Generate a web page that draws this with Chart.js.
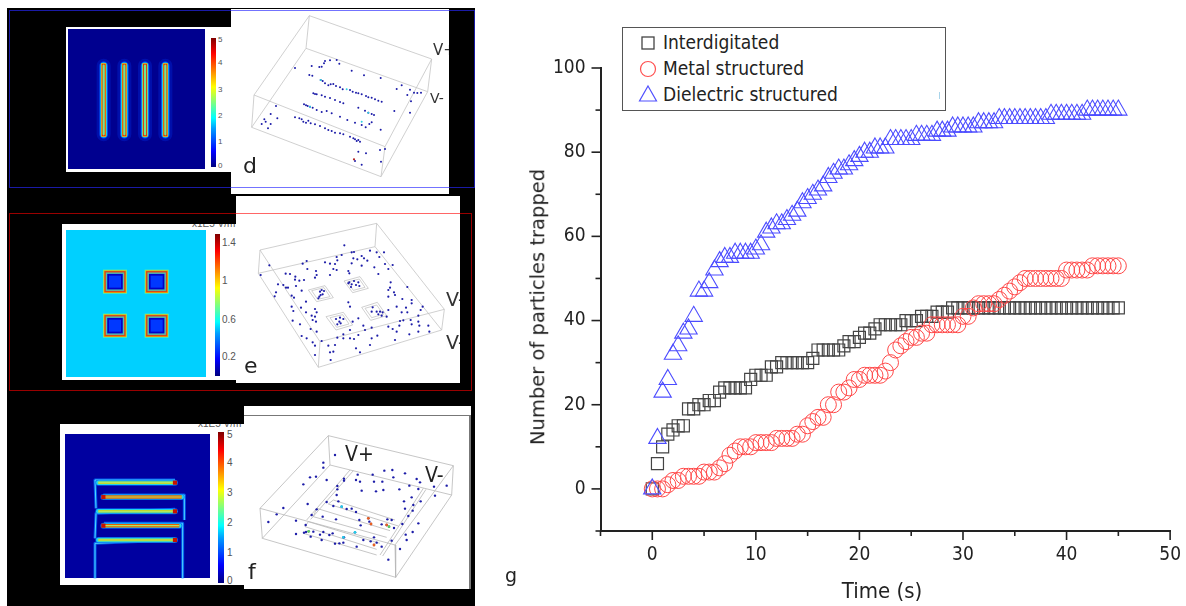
<!DOCTYPE html>
<html>
<head>
<meta charset="utf-8">
<title>Particles trapped</title>
<script src="https://cdn.jsdelivr.net/npm/chart.js@4/dist/chart.umd.min.js"></script>
<style>
  html, body { margin: 0; padding: 0; background: #fff; overflow: hidden; }
  body { position: relative; width: 1186px; height: 606px; font-family: "DejaVu Sans", sans-serif; }
  .abs { position: absolute; }
  .box { position: absolute; overflow: hidden; }
  canvas { position: absolute; }
  #scene { left: 0; top: 0; filter: blur(0.45px); }
  #main { left: 520px; top: 0; filter: blur(0.3px); }
  .lbl { position: absolute; color: #333; white-space: nowrap; line-height: 1; }
  .cond { font-family: "DejaVu Sans Condensed", "DejaVu Sans", sans-serif; }
  .cb { position: absolute; background: linear-gradient(to top, #00007f, #0000ff 12%, #00a0ff 30%, #00ffff 38%, #7fff7f 50%, #ffff00 62%, #ff7f00 75%, #ff0000 88%, #7f0000); }
  .num { position: absolute; font: 8px "Liberation Sans", sans-serif; color: #555; line-height: 1; white-space: nowrap; }
  .num.big { font-size: 10px; }
  #legend { position: absolute; left: 622px; top: 27px; width: 322px; height: 82px; border: 1.5px solid #555; background: #fff; }
  #legend div { position: absolute; left: 40px; font: 19px "DejaVu Sans Condensed", "DejaVu Sans", sans-serif; color: #222; line-height: 1; white-space: nowrap; }
  #legend svg { position: absolute; left: 14px; }
  #ytitle { position: absolute; left: 538px; top: 307px; transform: translate(-50%, -50%) rotate(-90deg); font: 19.5px "DejaVu Sans", sans-serif; color: #222; white-space: nowrap; line-height: 1; }
  #xtitle { position: absolute; left: 882px; top: 591px; transform: translate(-50%, -50%); font: 22px "DejaVu Sans Condensed", "DejaVu Sans", sans-serif; color: #222; white-space: nowrap; line-height: 1; }
</style>
</head>
<body>
<div class="abs" style="left:7px;top:8px;width:468px;height:598px;background:#000"></div>

<!-- panel d -->
<div class="box" style="left:66px;top:27px;width:165px;height:145px;background:#fff"></div>
<div class="box" style="left:231px;top:9px;width:218px;height:185px;background:#fff"></div>
<div class="abs" style="left:68px;top:29px;width:137px;height:140px;background:#00008f"></div>
<div class="cb" style="left:211px;top:38px;width:5px;height:129px"></div>
<div class="num" style="left:218px;top:36px">5</div>
<div class="num" style="left:218px;top:59px">4</div>
<div class="num" style="left:218px;top:86px">3</div>
<div class="num" style="left:218px;top:112px">2</div>
<div class="num" style="left:218px;top:138px">1</div>
<div class="num" style="left:218px;top:162px">0</div>

<!-- panel e -->
<div class="box" style="left:236px;top:196px;width:224px;height:187px;background:#fff"></div>
<div class="box" style="left:62px;top:224px;width:174px;height:156px;background:#fff"></div>
<div class="abs" style="left:66px;top:230px;width:140px;height:147px;background:#00d0ff"></div>
<div class="cb" style="left:215px;top:234px;width:5px;height:142px"></div>
<div class="num big" style="left:222px;top:238px">1.4</div>
<div class="num big" style="left:222px;top:276px">1</div>
<div class="num big" style="left:222px;top:315px">0.6</div>
<div class="num big" style="left:222px;top:352px">0.2</div>
<div class="box" style="left:190px;top:224px;width:46px;height:6px"><div class="num big" style="left:2px;top:-5px">x1E5 V/m</div></div>

<!-- panel f -->
<div class="box" style="left:244px;top:406px;width:227px;height:183px;background:#fff"></div>
<div class="abs" style="left:244px;top:415px;width:225px;height:1px;background:#777"></div>
<div class="abs" style="left:469px;top:415px;width:2px;height:174px;background:#777"></div>
<div class="box" style="left:60px;top:424px;width:184px;height:161px;background:#fff"></div>
<div class="abs" style="left:65px;top:434px;width:145px;height:144px;background:#0000a0"></div>
<div class="cb" style="left:218px;top:432px;width:6px;height:151px"></div>
<div class="num big" style="left:227px;top:430px">5</div>
<div class="num big" style="left:227px;top:458px">4</div>
<div class="num big" style="left:227px;top:488px">3</div>
<div class="num big" style="left:227px;top:518px">2</div>
<div class="num big" style="left:227px;top:548px">1</div>
<div class="num big" style="left:227px;top:576px">0</div>
<div class="box" style="left:196px;top:424px;width:48px;height:6px"><div class="num big" style="left:2px;top:-5px">x1E5 V/m</div></div>

<canvas id="scene" width="480" height="606"></canvas>

<!-- panel outlines -->
<div class="abs" style="left:9px;top:10px;width:464px;height:176px;border:1px solid rgba(40,40,255,.65)"></div>
<div class="abs" style="left:9px;top:213px;width:461px;height:176px;border:1px solid rgba(255,0,0,.6)"></div>

<!-- panel captions -->
<div class="box" style="left:420px;top:30px;width:29px;height:90px">
  <div class="lbl" style="left:13px;top:13px;font-size:15px">V+</div>
  <div class="lbl" style="left:10px;top:61px;font-size:14px">V-</div>
</div>
<div class="lbl" style="left:243px;top:155px;font-size:22px;color:#222">d</div>
<div class="box" style="left:440px;top:290px;width:20px;height:70px">
  <div class="lbl" style="left:6px;top:0px;font-size:19px">V-</div>
  <div class="lbl" style="left:6px;top:43px;font-size:19px">V-</div>
</div>
<div class="lbl" style="left:244px;top:355px;font-size:22px;color:#222">e</div>
<div class="lbl cond" style="left:345px;top:444px;font-size:21px;color:#222">V+</div>
<div class="lbl cond" style="left:425px;top:465px;font-size:21px;color:#222">V-</div>
<div class="lbl" style="left:248px;top:561px;font-size:22px;color:#222">f</div>
<div class="lbl" style="left:505px;top:566px;font-size:19px;color:#222">g</div>

<canvas id="main" width="666" height="606"></canvas>

<div id="ytitle">Number of particles trapped</div>
<div id="xtitle">Time (s)</div>

<div id="legend">
  <svg style="top:7px" width="22" height="16"><rect x="5" y="2" width="12" height="12" fill="none" stroke="#444" stroke-width="1.3"/></svg>
  <div style="top:5px">Interdigitated</div>
  <svg style="top:31px" width="22" height="20"><circle cx="11" cy="10" r="7.5" fill="none" stroke="#ff5050" stroke-width="1.2"/></svg>
  <div style="top:31px">Metal structured</div>
  <svg style="top:56px" width="22" height="20"><path d="M11 2 L19.5 17 L2.5 17 Z" fill="none" stroke="#5050ff" stroke-width="1.2"/></svg>
  <div style="top:57px">Dielectric structured</div>
  <span class="abs" style="left:316px;top:64px;width:1px;height:7px;background:#a8d4ea"></span>
</div>

<script>
// main chart data
const timeS = [0,0.5,1,1.5,2,2.5,3,3.5,4,4.5,5,5.5,6,6.5,7,7.5,8,8.5,9,9.5,10,10.5,11,11.5,12,12.5,13,13.5,14,14.5,15,15.5,16,16.5,17,17.5,18,18.5,19,19.5,20,20.5,21,21.5,22,22.5,23,23.5,24,24.5,25,25.5,26,26.5,27,27.5,28,28.5,29,29.5,30,30.5,31,31.5,32,32.5,33,33.5,34,34.5,35,35.5,36,36.5,37,37.5,38,38.5,39,39.5,40,40.5,41,41.5,42,42.5,43,43.5,44,44.5,45]
const interdigitated = [0,6,10,13,14,15,15,19,19,20,20,21,21,23,24,24,24,24,24,26,27,27,27,29,29,30,30,30,30,30,30,31,33,33,33,33,33,34,35,35,36,37,37,38,39,39,39,39,39,40,40,40,41,41,41,42,42,42,43,43,43,43,43,43,43,43,43,43,43,43,43,43,43,43,43,43,43,43,43,43,43,43,43,43,43,43,43,43,43,43,43]
const metalStructured = [0,0,0,1,2,2,3,3,3,3,4,4,4,5,6,8,9,10,10,10,11,11,11,11,12,12,12,12,13,13,15,16,17,17,20,20,23,23,24,26,26,27,27,27,27,28,30,33,34,35,36,36,37,37,39,39,39,39,39,39,41,41,43,44,44,44,44,45,46,47,48,49,50,50,50,50,50,50,50,50,52,52,52,52,52,53,53,53,53,53,53]
const dielectricStructured = [0,12,23,26,32,34,37,38,41,47,47,49,52,54,55,55,56,56,56,56,57,58,61,62,63,63,64,65,66,68,69,70,71,72,74,75,76,76,77,78,79,80,80,81,81,81,83,83,83,83,83,84,84,84,84,85,85,85,86,86,86,86,86,87,87,87,87,88,88,88,88,88,88,88,88,88,88,89,89,89,89,89,89,89,90,90,90,90,90,90,90]

// particle positions in the 3D views, in 3x crop pixels of each panel
const particlesD = [[885,204],[935,198],[975,183],[990,181],[1010,180],[1018,191],[972,190],[965,200],[958,201],[928,225],[937,227],[1055,212],[1092,226],[1142,234],[1205,256],[1190,267],[1230,269],[1242,278],[1252,279],[1263,278],[1222,285],[1233,304],[1183,333],[1230,338],[828,318],[812,342],[832,355],[793,358],[797,365],[785,372],[812,372],[804,385],[1142,389],[1140,450],[1155,447],[1075,455],[1098,460],[1065,483],[1085,494],[1143,485],
  [962,240],[968,243],[975,250],[985,256],[992,253],[1000,252],[1008,258],[1020,262],[1028,268],[1050,270],[1058,275],[1068,278],[1075,280],[1085,283],[1098,288],[1105,292],[1115,293],[1125,298],[1135,302],[1145,305],
  [940,280],[945,282],[950,283],[965,286],[975,290],[990,294],[1005,300],[1020,306],[1030,310],[1075,323],[1095,332],[1105,338],[1115,342],[1122,345],
  [912,313],[918,316],[923,318],[930,320],[938,323],[950,330],[965,336],[980,333],[995,340],[1020,350],[1042,360],[1065,368],[1085,375],[1097,382],[1108,372],[1115,367],
  [885,352],[898,355],[905,358],[910,365],[918,368],[925,362],[932,370],[945,373],[960,378],[975,385],[985,390],[995,393],[1005,398],[1020,400],[1030,403],[1050,410],[1060,415],[1065,418],[1070,423],[1080,425],[1075,420]]
const particlesE = [[1033,151],[1055,172],[1062,171],[1110,167],[1130,172],[1152,172],[1138,186],[1010,186],[1025,180],[1085,183],[1072,193],[1092,190],[1102,197],[1060,190],[1055,205],[920,198],[908,206],[808,211],[975,202],[990,206],[1012,196],[1005,207],[1000,222],[1155,207],[1178,210],[1165,222],[1123,217],[922,222],[948,228],[950,240],[945,248],[990,240],[1010,225],[1045,228],[1048,235],[1085,212],[1135,237],[857,236],[870,237],[886,245],[885,254],[898,257],[912,255],[782,240],[834,268],[850,270],[858,278],[864,278],[888,273],[905,287],[828,292],[824,304],[875,302],[882,308],[918,320],[1172,262],[1170,278],[1222,276],[1165,285],[1182,292],[1185,300],[1165,305],[1207,312],[1235,315],[1235,325],
  [1048,262],[1055,268],[1062,258],[1068,270],[1075,262],[1078,273],[1053,276],[1045,265],[960,290],[965,285],[972,288],[968,298],[958,305],[962,300],[955,310],[1045,322],[1050,335],[1190,335],[1218,338],[1268,335],[1262,345],[1205,352],[1222,352],[1255,362],
  [1118,337],[1130,350],[1115,350],[1140,350],[1148,352],[1145,362],[1135,358],[1165,345],[1160,365],[1020,368],[1030,372],[1008,372],[1022,385],[1012,388],[1018,380],
  [875,335],[880,348],[903,338],[918,352],[945,342],[950,352],[935,362],[945,365],[938,375],[948,380],[878,377],[900,388],[932,402],[950,410],[920,430],[905,423],[938,442],[965,438],[945,452],[945,480],[985,452],[1005,450],[1012,428],[1030,418],[1050,405],[1050,430],[1062,432],[1075,420],[1030,430],[1090,392],[1095,405],[1115,398],[1075,370],[1058,380],[1132,422],[1115,430],[1110,450],[1068,460],[1080,472],[1000,470],[990,472],[992,495],[1165,395],[1178,402],[1190,410],[1185,435],[1200,378],[1210,376],[1232,375],[1235,388],[1198,392],[1255,380],[1258,392],[1285,392],[1288,410],[1255,410],[1228,418]]
const particlesF = [[1005,165],[970,188],[970,203],[930,232],[948,230],[980,240],[910,253],[1032,236],[1032,242],[1068,240],[1073,224],[1080,245],[1118,224],[1122,245],[1147,245],[1153,212],[1177,210],[1180,232],[1215,220],[1250,237],[1260,247],[1228,257],[1255,267],[1302,260],[1340,257],[1305,287],[1012,258],[1012,268],[1010,285],[1085,272],[1128,274],[1150,270],[1198,268],[1235,292],[1212,304],[1240,315],[1262,304],[1215,326],[1238,332],[1225,348],[980,306],[1015,304],[1000,318],[1025,320],[1040,327],[1055,326],[1068,336],[950,328],[935,345],[968,350],[1008,358],[850,324],[830,343],[805,366],[888,362],[923,312],[917,375],[1078,360],[1082,376],[1105,355],[1108,365],[1113,372],[1145,373],[1162,358],[1175,360],[1160,375],[1167,380],[1182,384],[1207,372],[1255,370],[1238,396],[1217,404],[1220,420],[1200,447],[1165,479],[888,402],[912,398],[918,396],[926,394],[940,395],[932,410],[960,404],[970,396],[988,405],[998,400],[965,420],[1005,431],[1018,430],[1030,428],[1030,412],[1032,412],[1065,397],[1070,440],[1090,420],[1112,424],[1122,412],[1122,435],[1130,428],[1145,440],[1175,422]]

// wireframes of the 3D views and electrode outlines, 3x crop pixels
const boxD = [[[928,47],[1295,177],[1155,440],[762,285],[928,47],[918,145],[755,382],[1143,530],[1283,275],[918,145]],[[762,285],[755,382]],[[1295,177],[1283,275]],[[1155,440],[1143,530]]]
const boxE = [[[780,165],[1130,85],[1333,343],[960,440],[780,165],[775,235],[955,517],[1325,405],[1333,343]],[[1130,85],[1125,155],[1325,405]],[[775,235],[1125,155]],[[960,440],[955,517]],
  [[925,285],[975,272],[1000,308],[950,320],[925,285]],[[935,287],[972,278],[990,305],[953,313],[935,287]],[[1032,258],[1080,245],[1105,280],[1058,293],[1032,258]],[[1042,261],[1078,252],[1095,277],[1060,286],[1042,261]],
  [[1085,337],[1132,322],[1160,362],[1112,376],[1085,337]],[[1095,340],[1130,330],[1150,358],[1115,368],[1095,340]],[[978,365],[1030,352],[1058,390],[1008,405],[978,365]],[[990,368],[1028,359],[1047,387],[1010,397],[990,368]]]
const boxF = [[[985,107],[1360,197],[1185,435],[780,325],[985,107],[990,195],[787,415],[1187,532],[1355,285],[1360,197]],[[780,325],[787,415]],[[1185,435],[1187,532]],[[990,195],[1355,285]],
  [[1050,210],[920,360]],[[1060,212],[932,358]],[[1270,265],[1140,465]],[[1278,268],[1148,468]],[[1000,300],[1185,360]],[[985,312],[1195,378]],[[950,325],[1170,392]],[[940,350],[1160,412]],[[925,365],[1140,430]],[[915,380],[1130,448]],[[910,400],[1130,465]],[[1000,300],[985,312]],[[950,325],[940,350]],[[925,365],[915,380]]]

// field plot electrodes, 3x crop pixels
const fingersD = [[[311,197],[311,403]],[[373,197],[373,403]],[[435,197],[435,403]],[[496,197],[496,403]]]
const padsE = [[345,260],[470,260],[345,392],[470,392]]
const fingersF = [[[295,248],[525,248]],[[310,291],[545,291]],[[295,334],[525,334]],[[310,377],[538,377]],[[295,420],[525,420]]]
const railsF = [[[285,535],[285,430],[525,420]],[[285,415],[288,340],[525,328]],[[288,325],[285,240],[525,240]],[[548,535],[548,370],[312,370]],[[553,360],[553,285],[310,285]]]

const PANEL_D = 0
const PANEL_E = 195
const PANEL_F = 400

const toPic = (dy, pts) => pts.map(([x, y]) => ({ x: x / 3, y: y / 3 + dy }))

const sceneSets = []
const addSet = (ds) => {
  // later sets go on top
  ds.order = 5000 - sceneSets.length
  sceneSets.push(ds)
}
const addLine = (dy, path, color, width, cap) => {
  addSet({ type: "scatter", data: toPic(dy, path), showLine: true, borderColor: color, borderWidth: width, borderCapStyle: cap || "butt", borderJoinStyle: "round", pointRadius: 0, fill: false, tension: 0 })
}
const addDots = (dy, pts, color, radius, style) => {
  addSet({ type: "scatter", data: toPic(dy, pts), showLine: false, pointStyle: style || "circle", pointRadius: radius, backgroundColor: color, borderWidth: 0, pointBorderWidth: 0 })
}

// panel d field plot
fingersD.forEach((f) => {
  addLine(PANEL_D, f, "rgba(0,60,255,.25)", 14, "round")
  addLine(PANEL_D, f, "rgba(0,90,255,.9)", 8.5, "round")
  addLine(PANEL_D, f, "#00d8ff", 6.5, "round")
  addLine(PANEL_D, f, "#ffd000", 5, "square")
  addLine(PANEL_D, f, "#e83000", 4, "square")
  addLine(PANEL_D, f, "#70e890", 2.2, "butt")
})
// panel e field plot
addDots(PANEL_E, padsE, "#60f0a0", 17, "rect")
addDots(PANEL_E, padsE, "#f0b000", 16, "rect")
addDots(PANEL_E, padsE, "#d84818", 15, "rect")
addDots(PANEL_E, padsE, "#50c0b0", 13, "rect")
addDots(PANEL_E, padsE, "#0000c8", 11, "rect")
addDots(PANEL_E, padsE, "#0038ff", 8.5, "rect")
// panel f field plot
railsF.forEach((r) => {
  addLine(PANEL_F, r, "rgba(0,110,255,.8)", 3)
  addLine(PANEL_F, r, "#50d8ff", 1)
})
fingersF.forEach((f, i) => {
  const strong = i % 2 === 1
  addLine(PANEL_F, f, "rgba(0,110,255,.8)", 6, "round")
  addLine(PANEL_F, f, "#20d8e8", 4.5, "round")
  addLine(PANEL_F, f, strong ? "#e86000" : "#c8d020", strong ? 3.5 : 2.5, "butt")
  addLine(PANEL_F, f, "#b0e860", 1.2, "butt")
  const tip = strong ? f[0] : f[1]
  addDots(PANEL_F, [tip], "#c81000", 3, "rect")
})
// wireframes and particles
boxD.forEach((p) => addLine(PANEL_D, p, "#c4c4c4", 0.8))
boxE.forEach((p) => addLine(PANEL_E, p, "#c4c4c4", 0.8))
boxF.forEach((p) => addLine(PANEL_F, p, "#b8b8b8", 0.8))
addDots(PANEL_D, particlesD, "#1c1ca8", 1)
addDots(PANEL_E, particlesE, "#1c1ca8", 1.1)
addDots(PANEL_F, particlesF, "#1c1ca8", 1.2)
addDots(PANEL_D, [[962,240],[930,320],[1040,268],[1085,365],[1105,338]], "#30d0e0", 1)
addDots(PANEL_D, [[1062,478]], "#b02020", 1.1)
addDots(PANEL_F, [[1025,320],[1065,397],[1030,412]], "#20d0e8", 1.3)
addDots(PANEL_F, [[1105,355],[1113,372],[1160,375],[1122,435]], "#e86020", 1.4)
addDots(PANEL_F, [[1167,380],[926,394]], "#60d060", 1.4)

new Chart(document.getElementById("scene"), {
  type: "scatter",
  data: { datasets: sceneSets },
  options: {
    responsive: false,
    animation: false,
    devicePixelRatio: 1,
    layout: { padding: 0, autoPadding: false },
    plugins: { legend: { display: false }, tooltip: { enabled: false } },
    scales: {
      x: { type: "linear", min: 0, max: 480, display: false },
      y: { type: "linear", min: 0, max: 606, reverse: true, display: false },
    },
  },
})

// main chart
const tickFont = { family: "'DejaVu Sans Condensed', 'DejaVu Sans', sans-serif", size: 19 }
const toPoints = (values) => values.map((v, i) => ({ x: timeS[i], y: v }))

// Origin style ticks: long at labelled values, short in between
const originTicks = {
  id: "originTicks",
  afterDraw(chart) {
    const { ctx, scales } = chart
    ctx.save()
    ctx.strokeStyle = "#222"
    ctx.lineWidth = 1.6
    scales.x.ticks.forEach((t) => {
      const px = scales.x.getPixelForValue(t.value)
      const len = t.value % 10 === 0 ? 9 : 5
      ctx.beginPath()
      ctx.moveTo(px, chart.chartArea.bottom)
      ctx.lineTo(px, chart.chartArea.bottom + len)
      ctx.stroke()
    })
    scales.y.ticks.forEach((t) => {
      const py = scales.y.getPixelForValue(t.value)
      const len = t.value % 20 === 0 ? 9 : 5
      ctx.beginPath()
      ctx.moveTo(chart.chartArea.left, py)
      ctx.lineTo(chart.chartArea.left - len, py)
      ctx.stroke()
    })
    ctx.restore()
  },
}

new Chart(document.getElementById("main"), {
  type: "scatter",
  data: {
    datasets: [
      { label: "Interdigitated", data: toPoints(interdigitated), order: 3, pointStyle: "rect", pointRadius: 8.5, pointBorderWidth: 1.2, pointBorderColor: "#444", pointBackgroundColor: "transparent" },
      { label: "Metal structured", data: toPoints(metalStructured), order: 2, pointStyle: "circle", pointRadius: 8, pointBorderWidth: 1, pointBorderColor: "#ff4848", pointBackgroundColor: "transparent" },
      { label: "Dielectric structured", data: toPoints(dielectricStructured), order: 1, pointStyle: "triangle", pointRadius: 10, pointBorderWidth: 1.1, pointBorderColor: "#4c4cff", pointBackgroundColor: "transparent" },
    ],
  },
  options: {
    responsive: false,
    animation: false,
    devicePixelRatio: 1,
    layout: { padding: { top: 68, right: 6, left: 0, bottom: 0 }, autoPadding: false },
    plugins: { legend: { display: false }, tooltip: { enabled: false } },
    scales: {
      x: {
        type: "linear",
        min: -5,
        max: 50,
        afterFit: (s) => { s.height = 75 },
        grid: { display: false },
        border: { display: true, color: "#222", width: 2 },
        ticks: {
          stepSize: 5,
          autoSkip: false,
          maxRotation: 0,
          padding: 5,
          color: "#222",
          font: tickFont,
          callback: (v) => (v % 10 === 0 && v >= 0 ? v : ""),
        },
      },
      y: {
        type: "linear",
        min: -10,
        max: 100,
        afterFit: (s) => { s.width = 80.5 },
        grid: { display: false },
        border: { display: true, color: "#222", width: 2 },
        ticks: {
          stepSize: 10,
          autoSkip: false,
          padding: 7,
          color: "#222",
          font: tickFont,
          callback: (v) => (v % 20 === 0 && v >= 0 ? v : ""),
        },
      },
    },
  },
  plugins: [originTicks],
})
</script>
</body>
</html>
